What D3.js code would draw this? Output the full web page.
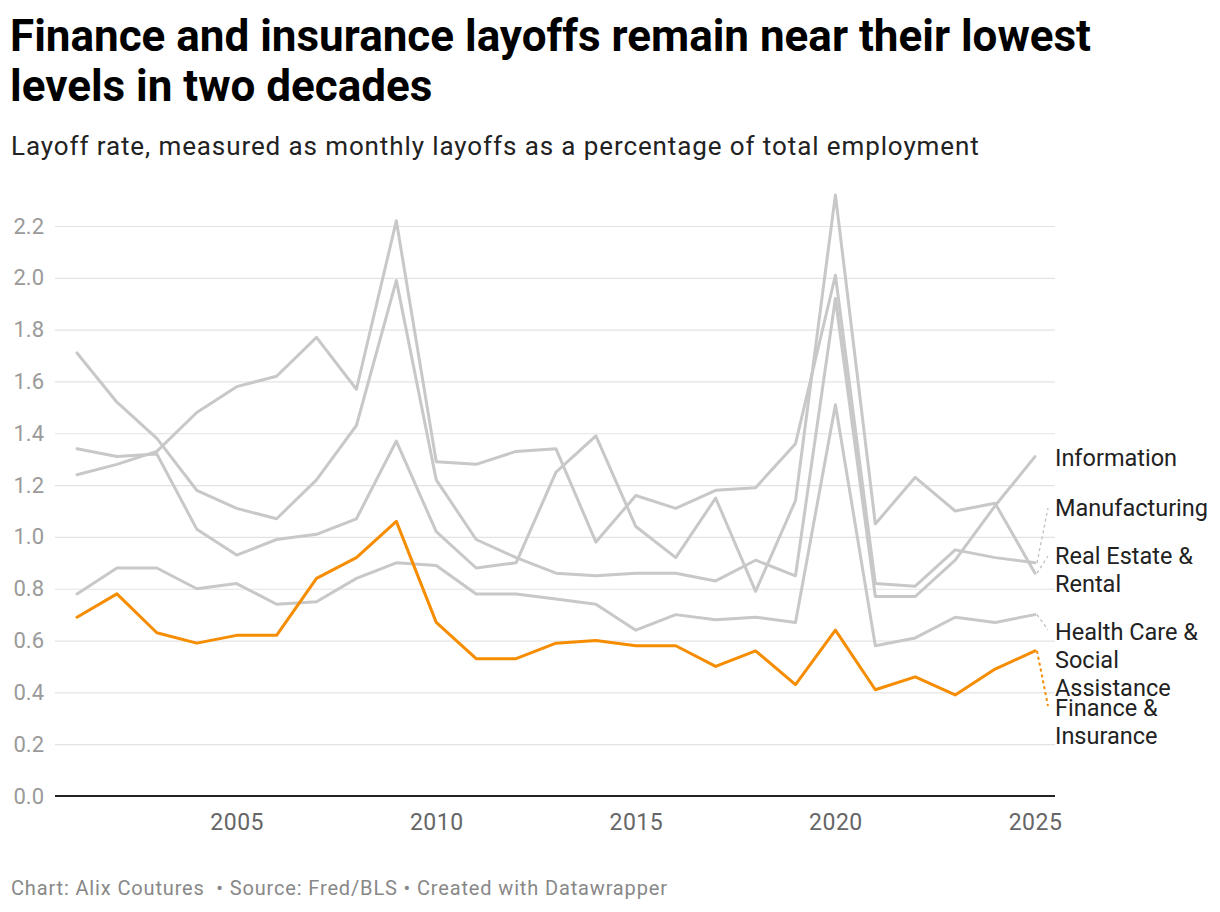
<!DOCTYPE html>
<html>
<head>
<meta charset="utf-8">
<script src="https://cdn.jsdelivr.net/npm/d3@7"></script>
<style>
  body { margin: 0; background: #fff; font-family: Roboto, sans-serif; }
  #chart text { font-family: Roboto, sans-serif; white-space: pre; }
</style>
</head>
<body>
<div id="chart"></div>
<script>
var years = d3.range(2001, 2026);
var yTicks = [0, 0.2, 0.4, 0.6, 0.8, 1.0, 1.2, 1.4, 1.6, 1.8, 2.0, 2.2];
var xTicks = [2005, 2010, 2015, 2020, 2025];

var information = [1.71, 1.52, 1.38, 1.18, 1.11, 1.07, 1.22, 1.43, 1.99, 1.22, 0.99, 0.92, 0.86, 0.85, 0.86, 0.86, 0.83, 0.91, 0.85, 1.92, 0.77, 0.77, 0.91, 1.12, 1.31];
var manufacturing = [1.24, 1.28, 1.33, 1.48, 1.58, 1.62, 1.77, 1.57, 2.22, 1.29, 1.28, 1.33, 1.34, 0.98, 1.16, 1.11, 1.18, 1.19, 1.36, 2.01, 0.82, 0.81, 0.95, 0.92, 0.90];
var realEstate = [1.34, 1.31, 1.32, 1.03, 0.93, 0.99, 1.01, 1.07, 1.37, 1.02, 0.88, 0.90, 1.25, 1.39, 1.04, 0.92, 1.15, 0.79, 1.14, 2.32, 1.05, 1.23, 1.10, 1.13, 0.86];
var healthCare = [0.78, 0.88, 0.88, 0.80, 0.82, 0.74, 0.75, 0.84, 0.90, 0.89, 0.78, 0.78, 0.76, 0.74, 0.64, 0.70, 0.68, 0.69, 0.67, 1.51, 0.58, 0.61, 0.69, 0.67, 0.70];
var finance = [0.69, 0.78, 0.63, 0.59, 0.62, 0.62, 0.84, 0.92, 1.06, 0.67, 0.53, 0.53, 0.59, 0.60, 0.58, 0.58, 0.50, 0.56, 0.43, 0.64, 0.41, 0.46, 0.39, 0.49, 0.56];

var seriesNames = ['Information', 'Manufacturing', 'Real Estate & Rental', 'Health Care & Social Assistance', 'Finance & Insurance'];
var seriesValues = [information, manufacturing, realEstate, healthCare, finance];
// label lines, each entry is one text row
var labelLines = [['Information'], ['Manufacturing'], ['Real Estate &', 'Rental'], ['Health Care &', 'Social', 'Assistance'], ['Finance &', 'Insurance']];
var labelY = [458, 508, 556, 632, 708];

var w = 1220, h = 912;
var grey = '#c8c8c8', orange = '#f68d00';

var svg = d3.select('#chart').append('svg')
  .attr('width', w)
  .attr('height', h);

// titles
var title = svg.append('text')
  .attr('x', 10).attr('y', 51)
  .attr('font-size', 44).attr('font-weight', 700).attr('fill', '#000');
title.append('tspan').attr('x', 10).text('Finance and insurance layoffs remain near their lowest');
title.append('tspan').attr('x', 10).attr('dy', 50).text('levels in two decades');

svg.append('text')
  .attr('x', 11).attr('y', 155)
  .attr('font-size', 26).attr('letter-spacing', 0.9).attr('fill', '#222')
  .text('Layoff rate, measured as monthly layoffs as a percentage of total employment');

var x = d3.scaleLinear().domain([2001, 2025]).range([77, 1035]);
var y = d3.scaleLinear().domain([0, 2.2]).range([796, 226]);

// grid + y labels
var yAxis = svg.append('g')
  .attr('transform', 'translate(55,0)')
  .call(d3.axisLeft(y).tickValues(yTicks).tickFormat(d3.format('.1f')).tickSize(-1000).tickPadding(11));
yAxis.select('.domain').remove();
yAxis.selectAll('.tick line').attr('stroke', '#e3e3e3').attr('stroke-width', 1.2);
yAxis.selectAll('.tick text').attr('font-size', 22).attr('fill', '#9a9a9a').attr('x', -11);

// x axis
var xAxis = svg.append('g')
  .attr('transform', 'translate(0,796)')
  .call(d3.axisBottom(x).tickValues(xTicks).tickFormat(d3.format('d')).tickSize(0).tickPadding(18));
xAxis.select('.domain').remove();
xAxis.selectAll('.tick text').attr('font-size', 23).attr('letter-spacing', 0.5).attr('fill', '#666');

svg.append('line')
  .attr('x1', 55).attr('x2', 1055)
  .attr('y1', y(0)).attr('y2', y(0))
  .attr('stroke', '#222').attr('stroke-width', 2);

var line = d3.line()
  .x(function(d, i) { return x(years[i]); })
  .y(function(d) { return y(d); });

// grey lines first, orange on top
seriesValues.forEach(function(vals, k) {
  svg.append('path')
    .attr('d', line(vals))
    .attr('fill', 'none')
    .attr('stroke', k === 4 ? orange : grey)
    .attr('stroke-width', 3)
    .attr('stroke-linejoin', 'round')
    .attr('stroke-linecap', 'round');
});

// labels and leader lines
seriesValues.forEach(function(vals, k) {
  var last = vals[vals.length - 1];
  var ey = y(last);
  var ly = labelY[k];
  if (Math.abs(ey - ly) > 6) {
    svg.append('line')
      .attr('x1', x(2025) + 2).attr('y1', ey)
      .attr('x2', 1048).attr('y2', ly + (ey > ly ? 0 : -2))
      .attr('stroke', k === 4 ? orange : '#bbb')
      .attr('stroke-width', k === 4 ? 2 : 1.2)
      .attr('stroke-dasharray', '3,3');
  }
  var t = svg.append('text')
    .attr('x', 1055).attr('y', ly + 8)
    .attr('font-size', 23.5).attr('fill', '#222');
  labelLines[k].forEach(function(s, j) {
    t.append('tspan').attr('x', 1055).attr('dy', j === 0 ? 0 : 28).text(s);
  });
});

// footer
svg.append('text')
  .attr('x', 11).attr('y', 895)
  .attr('font-size', 20).attr('letter-spacing', 0.85).attr('fill', '#888')
  .text('Chart: Alix Coutures  \u2022 Source: Fred/BLS \u2022 Created with Datawrapper');
</script>
</body>
</html>
